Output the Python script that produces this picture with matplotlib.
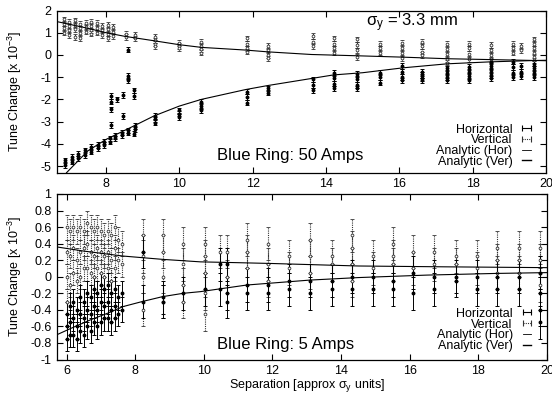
import matplotlib
matplotlib.use("Agg")
import matplotlib.pyplot as plt
from matplotlib.lines import Line2D
from matplotlib.ticker import FuncFormatter, MultipleLocator

plt.rcParams["font.family"] = ["Liberation Sans", "DejaVu Sans"]
plt.rcParams["mathtext.fontset"] = "custom"
plt.rcParams["mathtext.rm"] = "Liberation Sans"
plt.rcParams["mathtext.it"] = "Liberation Sans"

# ---- top panel: 50 Amps ----
top_ver_x = [6.85, 7.0, 7.15, 7.3, 7.45, 7.6, 7.75, 7.9, 8.05, 8.2, 8.55, 8.8,
             9.33, 10.0, 10.6, 11.83, 12.42, 13.64, 14.23, 14.85, 15.46, 16.08,
             16.62, 17.29, 17.91, 18.5, 19.11, 19.32, 19.68]
top_ver_y = [[1.6, 1.4, 1.2, 1.0], [1.5, 1.3, 1.1, 0.9], [1.55, 1.35, 1.15, 0.8],
             [1.4, 1.2, 1.0, 0.75], [1.45, 1.25, 1.05], [1.5, 1.3, 1.1, 0.95],
             [1.45, 1.2, 1.0], [1.3, 1.1, 0.9], [1.35, 1.15, 0.95, 0.75],
             [1.25, 1.05, 0.85], [0.95, 0.8], [0.9, 0.75],
             [0.8, 0.65, 0.5, 0.4], [0.55, 0.4, 0.3], [0.6, 0.4, 0.25, 0.1],
             [0.75, 0.5, 0.3, 0.15], [0.4, 0.2, 0.0, -0.15], [0.85, 0.6, 0.4],
             [0.75, 0.5, 0.3, 0.1], [0.7, 0.45, 0.2, -0.1], [0.5, 0.3, 0.1],
             [0.55, 0.3, 0.1, -0.15], [0.6, 0.4, 0.15, 0.0],
             [0.5, 0.25, 0.05, -0.2, -0.35], [0.5, 0.3, 0.05, -0.2],
             [0.45, 0.2, 0.0, -0.2], [0.5, 0.3, 0.1], [0.4, 0.2],
             [0.7, 0.5, 0.3, 0.1, -0.1, -0.25]]
top_hor_x = [6.88, 7.06, 7.24, 7.42, 7.6, 7.78, 7.95, 8.1, 8.25, 8.42, 8.6, 8.8,
             9.33, 10.0, 10.6, 11.83, 12.42, 13.64, 14.23, 14.85, 15.46, 16.08,
             16.62, 17.29, 17.91, 18.5, 19.11, 19.32, 19.68,
             8.6, 8.12, 8.3, 8.45, 8.75]
top_hor_y = [[-4.75, -4.95], [-4.6, -4.8], [-4.45, -4.65], [-4.3, -4.5],
             [-4.15, -4.35], [-4.05, -4.2], [-3.9, -4.05], [-3.75, -3.9],
             [-3.65, -3.75], [-3.5, -3.6], [-3.4, -3.5], [-3.2, -3.35],
             [-2.75, -2.9, -3.05], [-2.5, -2.65, -2.8], [-2.1, -2.3, -2.5],
             [-1.65, -1.9, -2.15], [-1.5, -1.7], [-1.1, -1.35, -1.6],
             [-0.8, -1.05, -1.3, -1.5], [-0.85, -1.1, -1.35, -1.5],
             [-0.8, -1.0, -1.25], [-0.5, -0.75, -1.0, -1.15],
             [-0.75, -0.9, -1.05, -1.15], [-0.6, -0.8, -1.0, -1.15],
             [-0.55, -0.75, -0.95, -1.15], [-0.3, -0.5, -0.7, -0.9, -1.05],
             [-0.3, -0.55, -0.8, -1.0], [-0.5, -0.75, -0.95],
             [-0.4, -0.6, -0.8, -1.0],
             [0.23, -0.95, -1.15], [-1.85, -2.1, -2.45, -3.15], [-2.0],
             [-1.8, -2.75], [-1.6, -1.85, -3.55]]
top_err = 0.12

top_ahor_x = [6.92, 7.5, 8.0, 8.8, 9.3, 10.0, 10.6, 11.8, 12.4, 13.6, 14.2,
              15.0, 16.1, 17.3, 18.5, 19.7, 20.0]
top_ahor_y = [-5.3, -4.32, -3.8, -3.16, -2.75, -2.3, -2.0, -1.56, -1.38,
              -1.06, -0.9, -0.8, -0.58, -0.4, -0.31, -0.25, -0.24]
top_aver_x = [6.66, 7.5, 8.0, 8.5, 9.3, 10.0, 10.6, 11.8, 12.4, 13.6, 14.9,
              16.1, 17.3, 18.5, 19.7, 20.0]
top_aver_y = [1.5, 1.2, 1.0, 0.84, 0.64, 0.46, 0.34, 0.22, 0.14, 0.02, -0.04,
              -0.1, -0.17, -0.21, -0.25, -0.26]

# ---- bottom panel: 5 Amps ----
bot_dense_x = [6.0, 6.1, 6.2, 6.3, 6.4, 6.5, 6.6, 6.7, 6.8, 6.9, 7.0, 7.1,
               7.2, 7.3, 7.4, 7.5, 7.6]
bot_dense_ver = [[0.6, 0.3, 0.0, -0.3], [0.55, 0.25, -0.1], [0.6, 0.35, 0.05],
                 [0.55, 0.2, -0.05], [0.6, 0.3, 0.0], [0.55, 0.35, 0.1],
                 [0.65, 0.4, 0.1], [0.6, 0.3, 0.05], [0.55, 0.25, 0.0],
                 [0.6, 0.35, 0.1], [0.55, 0.3, 0.05], [0.5, 0.25, 0.0],
                 [0.55, 0.3, 0.1], [0.5, 0.2, -0.05], [0.6, 0.35, 0.1],
                 [0.45, 0.2], [0.4, 0.15]]
bot_dense_hor = [[-0.45, -0.6, -0.75], [-0.35, -0.55, -0.7], [-0.3, -0.5, -0.7],
                 [-0.4, -0.6, -0.75], [-0.25, -0.45, -0.65], [-0.3, -0.5, -0.7],
                 [-0.2, -0.4, -0.6], [-0.25, -0.45, -0.65], [-0.15, -0.35, -0.55],
                 [-0.2, -0.4, -0.6], [-0.1, -0.3, -0.55], [-0.15, -0.35, -0.5],
                 [-0.1, -0.3, -0.5], [-0.2, -0.4, -0.55], [-0.15, -0.35, -0.5],
                 [-0.25, -0.45], [-0.2, -0.4]]
bot_dense_err = 0.15

bot_sparse_x = [8.22, 8.8, 9.38, 10.03, 10.47, 10.66, 11.25, 11.88, 12.49,
                13.09, 13.73, 14.31, 14.92, 15.5, 16.1, 16.71, 17.35, 17.95,
                18.55, 19.17, 19.8]
bot_sparse_ver = [[0.5, 0.25, 0.0, -0.4], [0.5, 0.3, 0.0, -0.3],
                  [0.4, 0.15, -0.1, -0.3], [0.4, 0.25, 0.05, -0.2, -0.45],
                  [0.3], [0.3, 0.0], [0.45, 0.3, 0.1], [0.4, 0.15, -0.05],
                  [0.25, 0.1], [0.45, 0.25, 0.05], [0.25, 0.15],
                  [0.5, 0.35, 0.15, -0.05], [0.25, 0.1], [0.4, 0.25, 0.15],
                  [0.3, 0.1], [0.3, 0.15], [0.25, 0.15], [0.25, 0.1],
                  [0.35, 0.2, 0.05], [0.35, 0.2, 0.05], [0.35, 0.2, 0.05, -0.1]]
bot_sparse_hor = [[0.3, -0.3], [-0.25, -0.3], [-0.2], [-0.15], [0.15, -0.15],
                  [0.15, -0.2, -0.3], [-0.1, -0.2], [-0.1, -0.2], [-0.05, -0.15],
                  [-0.05, -0.2], [-0.05, -0.15], [0.0, -0.15], [0.0, -0.15],
                  [-0.05, -0.15], [0.05, -0.2], [0.0, -0.15], [0.0, -0.05],
                  [0.0, -0.15], [0.0, -0.15], [0.0, -0.15],
                  [0.05, -0.2, -0.4, -0.55]]
bot_sparse_err = 0.2

bot_ahor_x = [5.72, 6.2, 6.7, 7.2, 7.65, 8.2, 8.8, 9.4, 9.9, 11.25, 13.1,
              14.5, 16.5, 18.5, 20.0]
bot_ahor_y = [-0.70, -0.61, -0.52, -0.44, -0.36, -0.30, -0.24, -0.20, -0.18,
              -0.10, -0.04, -0.01, 0.02, 0.04, 0.05]
bot_aver_x = [5.72, 6.5, 7.65, 8.8, 9.9, 11.0, 12.0, 14.5, 17.0, 20.0]
bot_aver_y = [0.36, 0.31, 0.25, 0.21, 0.18, 0.17, 0.16, 0.13, 0.12, 0.11]

VER_COLOR = "#333333"


def flat(xs, cols):
    x = [xi for xi, c in zip(xs, cols) for _ in c]
    y = [v for c in cols for v in c]
    return x, y


def draw_hor(ax, x, y, err):
    ax.errorbar(x, y, yerr=err, fmt="o", ms=1.8, color="k", mfc="k",
                elinewidth=0.7, capsize=1.5, capthick=0.7, zorder=2)


def draw_ver(ax, x, y, err):
    eb = ax.errorbar(x, y, yerr=err, fmt="o", ms=2.0, color=VER_COLOR,
                     mfc="white", mew=0.6, elinewidth=0.8, capsize=1.5,
                     capthick=0.7, zorder=2)
    eb[2][0].set_linestyle((0, (1, 1)))


def style(ax):
    ax.tick_params(direction="in", top=True, right=True, length=4, width=0.8,
                   labelsize=9, pad=4)
    for s in ax.spines.values():
        s.set_linewidth(0.9)
    ax.yaxis.set_major_formatter(FuncFormatter(lambda v, p: "%g" % round(v, 2)))
    ax.xaxis.set_major_formatter(FuncFormatter(lambda v, p: "%g" % v))


def key(ax, anchor):
    handles = [Line2D([], [], color="k", lw=0.8, marker="|", ms=4, mew=0.8),
               Line2D([], [], color=VER_COLOR, lw=0.8, ls=(0, (1, 1)), marker="|",
                      ms=4, mew=0.8),
               Line2D([], [], color="k", lw=0.6),
               Line2D([], [], color="k", lw=1.0)]
    labels = ["Horizontal", "Vertical", "Analytic (Hor)", "Analytic (Ver)"]
    ax.legend(handles, labels, loc="lower right", bbox_to_anchor=anchor,
              frameon=False, markerfirst=False, numpoints=2, handlelength=1.3,
              handletextpad=0.5, labelspacing=-0.1, fontsize=9,
              borderpad=0, borderaxespad=0)


fig = plt.figure(figsize=(5.52, 3.94), dpi=100)
ax1 = fig.add_axes([57 / 552, 1 - 172.7 / 394, 489 / 552, 162.2 / 394])
ax2 = fig.add_axes([57 / 552, 1 - 359.5 / 394, 490 / 552, 165.5 / 394])

x, y = flat(top_ver_x, top_ver_y)
draw_ver(ax1, x, y, top_err)
x, y = flat(top_hor_x, top_hor_y)
draw_hor(ax1, x, y, top_err)
ax1.plot(top_ahor_x, top_ahor_y, color="k", lw=0.8, zorder=3)
ax1.plot(top_aver_x, top_aver_y, color="k", lw=0.8, zorder=3)
ax1.set_xlim(6.66, 20)
ax1.set_ylim(-5.3, 2)
ax1.xaxis.set_major_locator(MultipleLocator(2))
ax1.yaxis.set_major_locator(MultipleLocator(1))
style(ax1)
key(ax1, (0.977, 0.03))
ax1.text(0.327, 0.109, "Blue Ring: 50 Amps", transform=ax1.transAxes,
         fontsize=12, ha="left", va="center")
ax1.text(0.726, 0.925, r"$\mathregular{\sigma_y}$ = 3.3 mm",
         transform=ax1.transAxes, fontsize=12, ha="center", va="center")

for xs, cols, err in [(bot_dense_x, bot_dense_ver, bot_dense_err),
                      (bot_sparse_x, bot_sparse_ver, bot_sparse_err)]:
    x, y = flat(xs, cols)
    draw_ver(ax2, x, y, err)
for xs, cols, err in [(bot_dense_x, bot_dense_hor, bot_dense_err),
                      (bot_sparse_x, bot_sparse_hor, bot_sparse_err)]:
    x, y = flat(xs, cols)
    draw_hor(ax2, x, y, err)
ax2.plot(bot_ahor_x, bot_ahor_y, color="k", lw=0.8, zorder=3)
ax2.plot(bot_aver_x, bot_aver_y, color="k", lw=0.8, zorder=3)
ax2.set_xlim(5.72, 20)
ax2.set_ylim(-1, 1)
ax2.xaxis.set_major_locator(MultipleLocator(2))
ax2.yaxis.set_major_locator(MultipleLocator(0.2))
style(ax2)
key(ax2, (0.976, 0.045))
ax2.text(0.326, 0.088, "Blue Ring: 5 Amps", transform=ax2.transAxes,
         fontsize=12, ha="left", va="center")

fig.text(0.027, 1 - 91.7 / 394, r"Tune Change [x 10$^{-3}$]", rotation=90,
         ha="center", va="center", fontsize=9)
fig.text(0.027, 1 - 276.7 / 394, r"Tune Change [x 10$^{-3}$]", rotation=90,
         ha="center", va="center", fontsize=9)
fig.text(307 / 552, 1 - 385 / 394,
         r"Separation [approx $\mathregular{\sigma_y}$ units]",
         ha="center", va="center", fontsize=9)

fig.savefig("out.png", dpi=100)
